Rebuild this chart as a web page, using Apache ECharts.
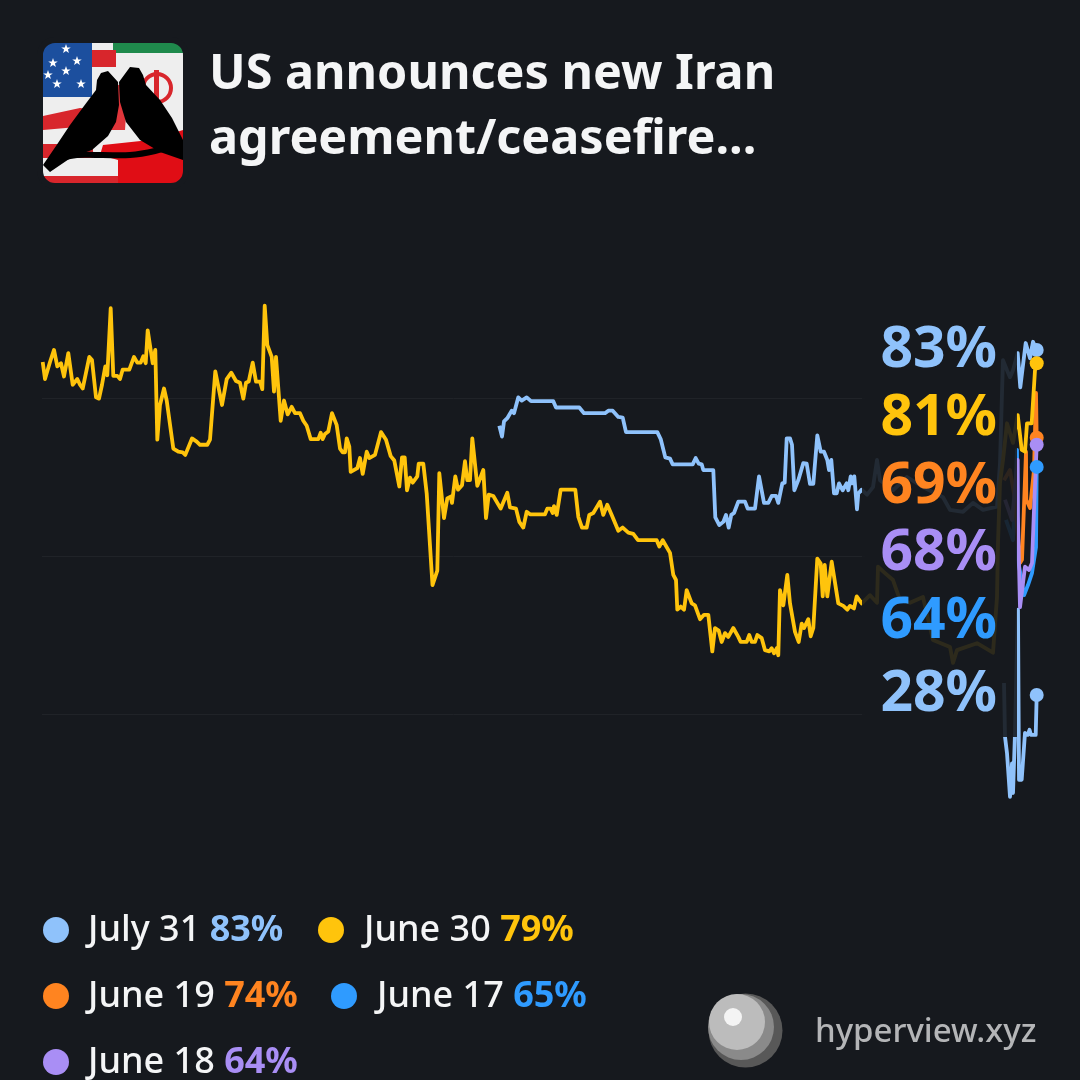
<!DOCTYPE html>
<html>
<head>
<meta charset="utf-8">
<title>US announces new Iran agreement/ceasefire...</title>
<script src="https://cdn.jsdelivr.net/npm/echarts@6/dist/echarts.min.js"></script>
<style>
html, body { margin: 0; padding: 0; background: #16191e; }
#chart { width: 1080px; height: 1080px; }
</style>
</head>
<body>
<div id="chart"></div>
<script>
// [time step, percent]
var july31 = [[457.3,70.6],[460,68.9],[462,71.3],[465.3,71.8],[469.7,73],[472,72.6],[476.3,75.1],[479.7,74.6],[484.7,75.1],[489,74.5],[511.3,74.5],[514,73.5],[537.3,73.5],[542,72.6],[563,72.6],[566.3,73],[570.7,73],[576.3,72],[580.7,71.9],[584,69.6],[615.3,69.6],[618.7,68.5],[623.3,65.6],[628,65.4],[630.7,64.5],[650.7,64.5],[653.7,65.5],[656.7,64.6],[659.7,64.5],[661.3,63.6],[671.3,63.6],[673.3,56.1],[677.3,54.9],[681.3,55.4],[684,56.5],[686.7,54.5],[689.3,56.5],[692,56.8],[696.3,58.6],[703,58.6],[705.7,57.5],[713,57.5],[717,62.6],[722,58.4],[726.3,58.4],[729.7,59.5],[734,59.5],[736.3,58.4],[740.3,61.5],[742.7,61.6],[744.7,68.6],[748,68.6],[750,67.6],[752.3,60.4],[756.3,62],[761.3,64.7],[764.7,64.6],[768,61.4],[771.3,61.4],[775.3,69.1],[778.7,66.5],[782,66.5],[785.3,65.2],[787,63.6],[789.3,65.2],[792,59.9],[794.7,59.9],[797,61.5],[800.7,60.4],[804.7,61.5],[806.3,60.4],[808.7,62.6],[810.3,61.5],[812.3,62.6],[815,57.4],[816.3,59.9],[819.7,60.5],[825,59.7],[831,60.9],[835,65.2],[838,62],[851,60.4],[865,62.5],[881,60.9],[901,59.3],[908,57.3],[921,57],[931,58.4],[941,57.3],[955,57.8],[958,64.7],[960,75.8],[961,81],[965,79.4],[968,78.3],[971,79.4],[975.7,82.1],[978.3,76.7],[983.7,83.7],[988,81.3],[991,83.9],[994.7,82.6]];
var june30 = [[0.7,80.7],[3,78],[8,80.7],[12,82.6],[15.3,80],[19,80.5],[22,78.4],[26.3,82.1],[30.7,77.1],[35.3,78],[38,77.1],[40.7,76.5],[47.3,81.5],[50,81],[54,75.1],[57,74.9],[60,77.1],[63.3,80],[65.3,78.6],[68.7,89.2],[71.3,78.5],[75.3,78.5],[78,78],[80.7,79.5],[87.3,79.5],[92,81.5],[95.3,80.6],[98.7,80.6],[101.3,81.6],[103.7,80.5],[105.7,85.7],[110.7,80.5],[113.3,82.6],[115.3,68.4],[118,73.9],[122,76.5],[124.7,74.6],[126.7,74.6],[131.3,67],[136.3,66.5],[140.7,66.4],[143.3,66],[150,68.6],[154.7,68.1],[158,67.6],[165.3,67.6],[168,68.4],[173.3,79.2],[180,73.9],[184.7,78],[189.3,79],[194,77.7],[198,77.4],[201.3,74.9],[204,77.4],[206.7,77.6],[210.7,80.6],[214,77.6],[218,77.6],[220.3,76.4],[222.7,89.6],[225.3,83.4],[229.7,81.5],[232,76],[234,81.5],[238.7,71.4],[242,74.6],[245.7,72.4],[249.7,73.6],[253,72.6],[258,72.6],[261.3,71.4],[264.7,70.6],[268.7,68.5],[276.3,68.5],[278.7,69.5],[280.7,68.5],[283,69.3],[286.3,69.7],[290,72.6],[294.7,70.7],[298,67],[300.7,66.4],[303,66.4],[304.7,68.6],[307.3,67.3],[308.7,63.3],[315.3,63.9],[318,65.5],[320.7,63],[324.7,66.5],[327.3,65.5],[333,66],[339,69.6],[344,68.4],[348.7,65.8],[352.3,65.1],[357.3,61],[360,65.6],[362.7,65.6],[365,60.4],[368,62.4],[370.7,61.6],[375.3,62.6],[376.7,64.6],[381.3,64.6],[384.7,59.9],[390.5,45.4],[395.3,47.7],[397.3,63.1],[402,56],[405.3,59.1],[408.7,59.4],[410,58.4],[413.3,62.6],[416,60.5],[420,61.2],[423,65],[425.3,62],[428,62],[430.3,68.6],[435.3,61.1],[441.3,63.6],[444,56],[446.7,59.7],[451.3,59.5],[458.7,57.5],[465.3,60],[468,57.7],[474,57.5],[477.3,55.4],[478.7,55.7],[481.3,54.5],[484.7,57],[488,56.6],[503,56.6],[505.3,57.5],[508.7,57.5],[510.7,56.8],[512,57.9],[514.7,56.5],[518.7,60.5],[533.3,60.5],[536.3,56.2],[540,54.5],[544.7,54.5],[547.3,56.5],[551.3,56.8],[558,58.6],[561.3,56.5],[565.3,58.1],[569.7,56.5],[576.3,54],[580.7,54.5],[586.3,53.7],[591.3,53.5],[596,52.5],[614.7,52.5],[617.3,51.5],[620.7,52.5],[628,50.5],[631.3,47],[634,46.2],[635.3,41.5],[638.7,42],[642,41.5],[644.7,44.6],[649.7,42.5],[653,42.2],[658,40],[662,40.7],[666.3,40.7],[670.3,34.9],[673,38.6],[676.7,38.2],[679.7,36.4],[683,37.8],[686.3,37.2],[691.3,38.6],[696.3,37.2],[698.7,36.4],[704.7,36.4],[707.3,37.5],[709.7,36.4],[713,36.4],[715.3,37.5],[719.7,37],[723,35.1],[727.3,34.9],[729.7,35.4],[732,34.6],[734.7,35.4],[736.3,34.3],[738,44.6],[741.3,42.2],[745.3,47],[748,42.5],[750,42.5],[753,38],[756.7,36.4],[759.7,39.3],[762,38.6],[766.3,40],[768.7,37.3],[771.3,38.6],[775.3,49.6],[778.7,48.8],[780.7,43.6],[782.7,48.6],[785.3,43.6],[789.7,49.1],[796.3,42.5],[801.3,42.1],[805.3,41.5],[808,42.1],[812,41.7],[814.7,43.6],[819.7,42.5],[828,43.8],[835,42.6],[836,48.3],[843,47.3],[851,46.2],[858,43],[868,42.6],[881,43.5],[891,36.7],[908,35.6],[911,33.1],[915,35.1],[935,36.2],[951,34.7],[955,43.5],[956,52],[958,61.6],[961,65.2],[965,71],[971,67.9],[975.7,72.3],[979.7,66.8],[983,66.5],[985,71],[989.7,71],[993,79.4],[994.7,80.5]];
var june19 = [[962,62],[968,63.6],[973,58.9],[978,48.9],[980,49.4],[984,66.5],[984.3,58.9],[988,57.6],[992,63.6],[994,75.8],[994.7,68.7]];
var june17 = [[964,55.7],[971,52.5],[975,66.8],[976,49.4],[982,43.8],[986,45.4],[990,47.3],[994,51.4],[994.7,64.1]];
var june18 = [[963,58.9],[970,55.7],[975.7,65.2],[975.9,56.2],[978,41.9],[983,48.3],[987,47.8],[990,48.9],[992,57.3],[994.7,67.6]];
var june16 = [[962,29.9],[963,21.4],[965,18.8],[968,11.9],[970,17.2],[971,12.5],[973,22],[974.7,34],[976,41.5],[977,14.6],[979.7,14.6],[983,22],[985.7,21.7],[987.5,22.5],[989,21.7],[993.7,21.7],[994.7,28]];

var titleLines = ['US announces new Iran', 'agreement/ceasefire...'];
var endLabels = ['83%', '81%', '69%', '68%', '64%', '28%'];
var endColors = ['#8fc2fb', '#ffc40c', '#ff8420', '#a98ef5', '#2f9bff', '#8fc2fb'];
var legendNames = ['July 31', 'June 30', 'June 19', 'June 17', 'June 18'];
var legendValues = ['83%', '79%', '74%', '65%', '64%'];
var legendColors = ['#8fc2fb', '#ffc40c', '#ff8420', '#2f9bff', '#a98ef5'];
var bg = '#16191e';

var myChart = echarts.init(document.getElementById('chart'));

function lineSeries(name, data, color) {
    var last = data.length - 1;
    return {
        name: name,
        type: 'line',
        xAxisIndex: 1,
        yAxisIndex: 1,
        data: data,
        showAllSymbol: true,
        symbol: 'circle',
        symbolSize: function (v, p) { return p.dataIndex === last ? 14 : 0; },
        lineStyle: { color: color, width: 3.8, join: 'round' },
        itemStyle: { color: color },
        silent: true
    };
}

function star(cx, cy, r) {
    var pts = [];
    for (var i = 0; i < 10; i++) {
        var a = -Math.PI / 2 + i * Math.PI / 5;
        var d = i % 2 ? r * 0.4 : r;
        pts.push([cx + d * Math.cos(a), cy + d * Math.sin(a)]);
    }
    return { type: 'polygon', shape: { points: pts }, style: { fill: '#fff' }, z: 101 };
}

var graphics = [];

// mask that dims the lines behind the big labels
graphics.push({ type: 'rect', shape: { x: 862, y: 320, width: 155, height: 417 }, style: { fill: 'rgba(22,25,30,0.9)' }, z: 100 });

// icon
graphics.push({ type: 'rect', shape: { x: 43, y: 43, width: 140, height: 140 }, style: { fill: '#eeeeee' }, z: 101 });
graphics.push({ type: 'rect', shape: { x: 43, y: 43, width: 49, height: 54 }, style: { fill: '#1c4f9e' }, z: 101 });
graphics.push({ type: 'rect', shape: { x: 113, y: 43, width: 70, height: 10 }, style: { fill: '#1f8a4c' }, z: 101 });
graphics.push({ type: 'rect', shape: { x: 92, y: 50, width: 24, height: 17 }, style: { fill: '#d8262c' }, z: 101 });
graphics.push({ type: 'polygon', shape: { points: [[43, 116], [80, 108], [100, 110], [100, 125], [43, 130]] }, style: { fill: '#d8262c' }, z: 101 });
graphics.push({ type: 'rect', shape: { x: 43, y: 144, width: 50, height: 14 }, style: { fill: '#d8262c' }, z: 101 });
graphics.push({ type: 'rect', shape: { x: 43, y: 176, width: 75, height: 7 }, style: { fill: '#d8262c' }, z: 101 });
graphics.push({ type: 'polygon', shape: { points: [[103, 145], [150, 140], [183, 130], [183, 183], [118, 183], [118, 160], [100, 155]] }, style: { fill: '#e00d15' }, z: 101 });
graphics.push({ type: 'polygon', shape: { points: [[108, 85], [128, 85], [125, 130], [105, 130]] }, style: { fill: '#e0353a' }, z: 101 });
graphics.push({ type: 'ring', shape: { cx: 157, cy: 88, r: 16, r0: 12 }, style: { fill: '#d8262c' }, z: 101 });
graphics.push({ type: 'rect', shape: { x: 154, y: 70, width: 5, height: 34 }, style: { fill: '#d8262c' }, z: 101 });
graphics.push(star(66, 49, 5), star(53, 63, 5), star(77, 61, 5), star(66, 71, 5), star(48, 75, 5), star(57, 84, 5), star(81, 84, 5));
// doves and the branch
graphics.push({ type: 'polygon', z: 102, shape: { points: [[118, 82], [108, 71], [101, 73], [97, 80], [96, 90], [84, 106], [70, 125], [56, 146], [43, 165], [50, 172], [72, 157], [92, 150], [108, 136], [116, 122], [119, 105]] }, style: { fill: '#000' } });
graphics.push({ type: 'polygon', z: 102, shape: { points: [[119, 82], [130, 67], [139, 68], [143, 75], [146, 85], [160, 100], [172, 118], [183, 140], [183, 160], [160, 152], [140, 140], [126, 122], [120, 102]] }, style: { fill: '#000' } });
graphics.push({ type: 'polyline', z: 102, shape: { points: [[46, 166], [70, 156], [100, 155], [130, 155], [155, 151], [183, 143]], smooth: 0.4 }, style: { fill: 'none', stroke: '#000', lineWidth: 6 } });
graphics.push({ type: 'rect', shape: { x: 40, y: 40, width: 146, height: 146, r: 15 }, style: { fill: 'none', stroke: bg, lineWidth: 6 }, z: 103 });

// title
titleLines.forEach(function (t, i) {
    graphics.push({
        type: 'text', z: 110,
        style: { text: t, x: 209, y: 75 + i * 65, fill: '#f4f5f6', fontFamily: 'Noto Sans', fontSize: 48.5, fontWeight: 700, textVerticalAlign: 'middle' }
    });
});

// big end labels
var endLabelY = [351, 419, 487, 554, 622, 695];
endLabels.forEach(function (t, i) {
    graphics.push({
        type: 'text', z: 110,
        style: { text: t, x: 997, y: endLabelY[i], textAlign: 'right', textVerticalAlign: 'middle', fill: endColors[i], fontFamily: 'Noto Sans', fontSize: 57, fontWeight: 700 }
    });
});

// legend
var legendDotX = [56, 331, 56, 344, 56];
var legendTextX = [88, 364, 88, 377, 88];
var legendY = [930, 930, 996, 996, 1062];
legendNames.forEach(function (n, i) {
    graphics.push({ type: 'circle', z: 110, shape: { cx: legendDotX[i], cy: legendY[i], r: 13 }, style: { fill: legendColors[i] } });
    var rich = {
        n: { fill: '#f4f5f6', fontFamily: 'Noto Sans', fontSize: 36, fontWeight: 500 },
        v: { fill: legendColors[i], fontFamily: 'Noto Sans', fontSize: 36, fontWeight: 700 }
    };
    graphics.push({
        type: 'text', z: 110,
        style: { text: '{n|' + n + ' }{v|' + legendValues[i] + '}', rich: rich, x: legendTextX[i], y: legendY[i] + 1, textVerticalAlign: 'middle' }
    });
});

// logo
graphics.push({ type: 'circle', z: 110, shape: { cx: 745.5, cy: 1030.5, r: 37 }, style: { fill: '#585858' } });
graphics.push({ type: 'circle', z: 110, shape: { cx: 741, cy: 1027, r: 33 }, style: { fill: '#8a8a8a' } });
graphics.push({ type: 'circle', z: 110, shape: { cx: 737, cy: 1022, r: 28 }, style: { fill: '#bcbcbc' } });
graphics.push({ type: 'circle', z: 110, shape: { cx: 733, cy: 1017, r: 9 }, style: { fill: '#f4f4f4' } });
graphics.push({
    type: 'text', z: 110,
    style: { text: 'hyperview.xyz', x: 815, y: 1033, textVerticalAlign: 'middle', fill: '#b4b5b7', fontFamily: 'Noto Sans', fontSize: 33, fontWeight: 500 }
});

var option = {
    backgroundColor: bg,
    animation: false,
    // first grid only carries the faint gridlines, second one the lines
    grid: [
        { left: 42, top: 240, width: 823, height: 632 },
        { left: 42, top: 240, width: 995, height: 632 }
    ],
    xAxis: [
        { gridIndex: 0, type: 'value', min: 0, max: 823, axisLine: { show: false }, axisTick: { show: false }, axisLabel: { show: false }, splitLine: { show: false } },
        { gridIndex: 1, type: 'value', min: 0, max: 995, show: false }
    ],
    yAxis: [
        {
            gridIndex: 0, type: 'value', min: 0, max: 100, interval: 25,
            axisLine: { show: false }, axisTick: { show: false }, axisLabel: { show: false },
            splitLine: { show: true, showMinLine: false, showMaxLine: false, lineStyle: { color: '#202328', width: 1 } }
        },
        { gridIndex: 1, type: 'value', min: 0, max: 100, show: false }
    ],
    series: [
        lineSeries('June 16', june16, '#8fc2fb'),
        lineSeries('June 17', june17, '#2f9bff'),
        lineSeries('June 19', june19, '#ff8420'),
        lineSeries('June 18', june18, '#a98ef5'),
        lineSeries('July 31', july31, '#8fc2fb'),
        lineSeries('June 30', june30, '#ffc40c')
    ],
    graphic: { elements: graphics }
};

myChart.setOption(option);
</script>
</body>
</html>
